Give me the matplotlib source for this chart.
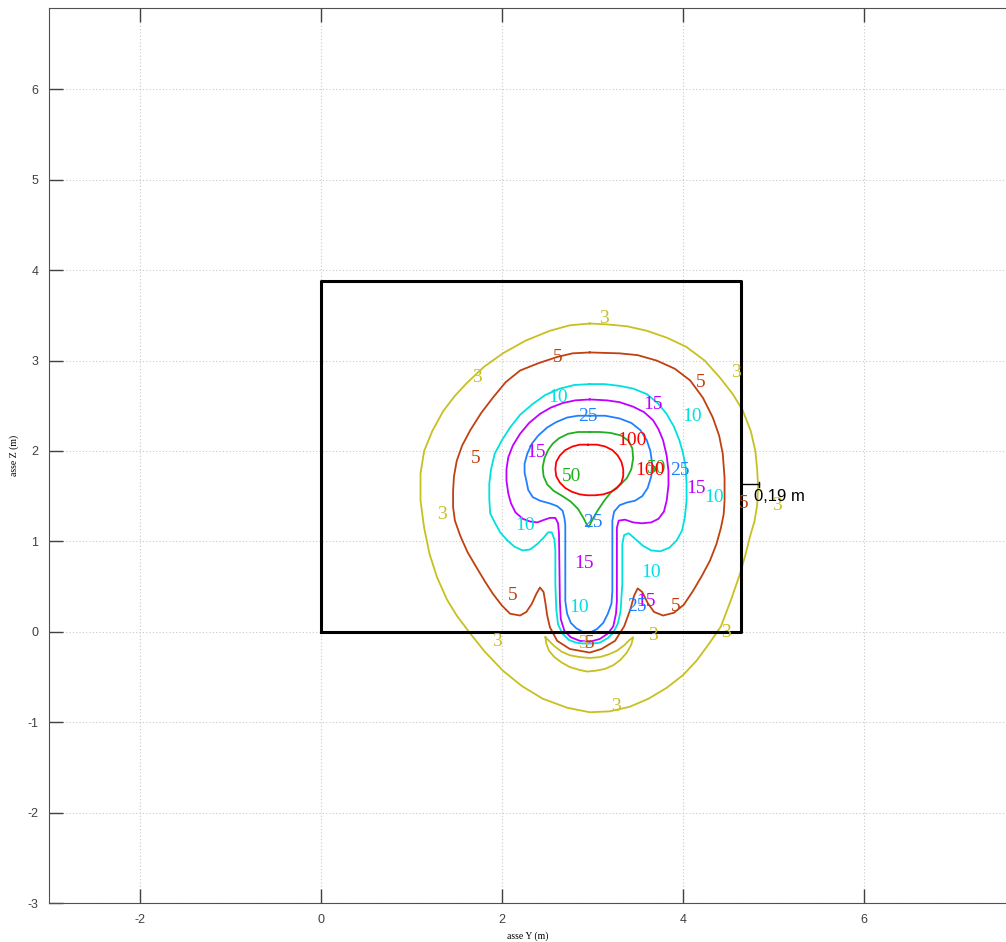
import numpy as np
import matplotlib.pyplot as plt
from matplotlib.ticker import MultipleLocator

plt.rcParams['axes.unicode_minus'] = False

# curve di livello: coppie (asse Y, asse Z) in metri
c3 = [(2.97, 3.41), (3.16, 3.40), (3.38, 3.38), (3.60, 3.33), (3.83, 3.25), (4.04, 3.15),
      (4.24, 3.00), (4.41, 2.81), (4.55, 2.63), (4.66, 2.45), (4.75, 2.22), (4.80, 2.00),
      (4.82, 1.80), (4.83, 1.60), (4.82, 1.40), (4.79, 1.22), (4.74, 1.05), (4.69, 0.85),
      (4.63, 0.64), (4.53, 0.35), (4.42, 0.06), (4.29, -0.13), (4.15, -0.32), (4.00, -0.48),
      (3.82, -0.62), (3.62, -0.74), (3.41, -0.83), (3.19, -0.88), (2.97, -0.89), (2.72, -0.84),
      (2.45, -0.74), (2.22, -0.60), (2.01, -0.43), (1.81, -0.22), (1.65, -0.02), (1.50, 0.18),
      (1.39, 0.36), (1.28, 0.61), (1.20, 0.86), (1.14, 1.15), (1.10, 1.45), (1.10, 1.75),
      (1.14, 2.00), (1.23, 2.22), (1.35, 2.44), (1.48, 2.61), (1.61, 2.75), (1.80, 2.93),
      (2.01, 3.08), (2.26, 3.22), (2.53, 3.33), (2.75, 3.39), (2.97, 3.41)]
c3b = [(2.48, -0.06), (2.49, -0.13), (2.52, -0.21), (2.58, -0.28), (2.66, -0.34), (2.75, -0.39),
       (2.85, -0.42), (2.94, -0.44), (3.04, -0.43), (3.14, -0.41), (3.23, -0.37), (3.31, -0.31),
       (3.38, -0.23), (3.43, -0.14), (3.45, -0.06), (3.41, -0.09), (3.35, -0.15), (3.27, -0.21),
       (3.18, -0.25), (3.08, -0.28), (2.97, -0.29), (2.86, -0.28), (2.75, -0.26), (2.66, -0.22),
       (2.58, -0.16), (2.52, -0.10), (2.48, -0.06)]
c5 = [(2.97, 3.09), (2.78, 3.08), (2.61, 3.04), (2.40, 2.97), (2.20, 2.89), (2.04, 2.76),
      (1.90, 2.59), (1.77, 2.42), (1.65, 2.23), (1.56, 2.06), (1.50, 1.89), (1.47, 1.72),
      (1.46, 1.56), (1.46, 1.38), (1.48, 1.23), (1.54, 1.06), (1.62, 0.88), (1.72, 0.71),
      (1.81, 0.56), (1.90, 0.42), (2.00, 0.29), (2.09, 0.20), (2.20, 0.18), (2.27, 0.22),
      (2.33, 0.31), (2.38, 0.42), (2.42, 0.49), (2.46, 0.44), (2.48, 0.32), (2.50, 0.18),
      (2.53, 0.05), (2.61, -0.10), (2.75, -0.19), (2.97, -0.23), (3.10, -0.19), (3.25, -0.10),
      (3.35, 0.06), (3.42, 0.25), (3.46, 0.40), (3.50, 0.48), (3.55, 0.44), (3.61, 0.32),
      (3.68, 0.22), (3.78, 0.18), (3.90, 0.21), (4.01, 0.30), (4.11, 0.45), (4.21, 0.62),
      (4.30, 0.79), (4.37, 0.97), (4.42, 1.15), (4.45, 1.30), (4.46, 1.45), (4.46, 1.70),
      (4.44, 1.97), (4.40, 2.17), (4.33, 2.37), (4.22, 2.59), (4.08, 2.78), (3.91, 2.91),
      (3.71, 3.00), (3.50, 3.06), (3.30, 3.08), (2.97, 3.09)]
c10 = [(2.97, 2.74), (2.80, 2.73), (2.64, 2.69), (2.48, 2.62), (2.34, 2.52), (2.20, 2.40),
       (2.09, 2.26), (2.00, 2.12), (1.92, 1.97), (1.88, 1.80), (1.86, 1.64), (1.86, 1.47),
       (1.87, 1.31), (1.92, 1.21), (1.98, 1.10), (2.06, 1.01), (2.14, 0.94), (2.23, 0.90),
       (2.31, 0.91), (2.39, 0.97), (2.46, 1.04), (2.51, 1.10), (2.55, 1.10), (2.58, 1.02),
       (2.59, 0.90), (2.59, 0.53), (2.60, 0.25), (2.62, 0.08), (2.67, -0.02), (2.74, -0.09),
       (2.82, -0.12), (2.90, -0.13), (3.00, -0.13), (3.08, -0.12), (3.17, -0.07), (3.23, -0.01),
       (3.28, 0.09), (3.31, 0.22), (3.33, 0.53), (3.33, 0.97), (3.35, 1.07), (3.40, 1.09),
       (3.47, 1.03), (3.56, 0.95), (3.65, 0.90), (3.75, 0.89), (3.85, 0.93), (3.93, 1.01),
       (3.99, 1.12), (4.02, 1.26), (4.04, 1.45), (4.04, 1.64), (4.03, 1.82), (4.00, 1.98),
       (3.96, 2.12), (3.90, 2.27), (3.82, 2.41), (3.72, 2.53), (3.60, 2.63), (3.45, 2.69),
       (3.30, 2.72), (3.13, 2.74), (2.97, 2.74)]
c15 = [(2.97, 2.57), (2.81, 2.56), (2.67, 2.53), (2.54, 2.48), (2.42, 2.41), (2.30, 2.31),
       (2.20, 2.19), (2.12, 2.06), (2.07, 1.93), (2.05, 1.80), (2.05, 1.67), (2.07, 1.53),
       (2.10, 1.42), (2.15, 1.32), (2.23, 1.25), (2.31, 1.22), (2.39, 1.21), (2.47, 1.24),
       (2.53, 1.26), (2.59, 1.26), (2.62, 1.20), (2.63, 1.09), (2.64, 0.34), (2.65, 0.14),
       (2.69, 0.01), (2.76, -0.06), (2.86, -0.10), (2.97, -0.11), (3.08, -0.08), (3.17, -0.02),
       (3.23, 0.06), (3.26, 0.20), (3.27, 0.34), (3.27, 1.15), (3.29, 1.23), (3.36, 1.24),
       (3.45, 1.21), (3.55, 1.20), (3.65, 1.21), (3.73, 1.25), (3.79, 1.33), (3.82, 1.45),
       (3.84, 1.62), (3.84, 1.78), (3.82, 1.95), (3.78, 2.12), (3.73, 2.24), (3.67, 2.34),
       (3.57, 2.43), (3.45, 2.49), (3.30, 2.54), (3.16, 2.56), (2.97, 2.57)]
c25 = [(2.97, 2.39), (2.84, 2.39), (2.72, 2.37), (2.60, 2.32), (2.50, 2.26), (2.40, 2.17),
       (2.33, 2.08), (2.28, 1.97), (2.25, 1.86), (2.25, 1.76), (2.27, 1.67), (2.29, 1.57),
       (2.34, 1.49), (2.42, 1.45), (2.53, 1.42), (2.61, 1.39), (2.67, 1.34), (2.69, 1.26),
       (2.70, 1.18), (2.70, 0.34), (2.72, 0.20), (2.76, 0.10), (2.82, 0.04), (2.89, 0.00),
       (2.97, -0.01), (3.05, 0.03), (3.12, 0.10), (3.17, 0.20), (3.21, 0.31), (3.22, 0.45),
       (3.22, 1.23), (3.24, 1.33), (3.30, 1.40), (3.38, 1.43), (3.47, 1.45), (3.55, 1.50),
       (3.61, 1.59), (3.65, 1.72), (3.66, 1.86), (3.64, 2.00), (3.60, 2.12), (3.53, 2.23),
       (3.43, 2.31), (3.30, 2.36), (3.14, 2.39), (2.97, 2.39)]
c50 = [(2.97, 2.21), (2.84, 2.21), (2.73, 2.19), (2.63, 2.14), (2.56, 2.08), (2.51, 2.01),
       (2.47, 1.92), (2.45, 1.82), (2.46, 1.72), (2.50, 1.63), (2.57, 1.56), (2.67, 1.50),
       (2.76, 1.44), (2.84, 1.36), (2.90, 1.26), (2.94, 1.18), (2.96, 1.16), (2.99, 1.22),
       (3.05, 1.33), (3.13, 1.45), (3.21, 1.55), (3.30, 1.62), (3.38, 1.70), (3.43, 1.80),
       (3.45, 1.92), (3.44, 2.03), (3.40, 2.11), (3.32, 2.17), (3.20, 2.20), (3.08, 2.21),
       (2.97, 2.21)]
c100 = [(2.95, 2.07), (3.05, 2.07), (3.14, 2.05), (3.22, 2.01), (3.28, 1.95), (3.32, 1.88),
        (3.34, 1.80), (3.34, 1.72), (3.32, 1.65), (3.27, 1.59), (3.21, 1.55), (3.12, 1.52),
        (3.03, 1.51), (2.94, 1.51), (2.86, 1.52), (2.77, 1.55), (2.70, 1.59), (2.64, 1.65),
        (2.60, 1.72), (2.59, 1.80), (2.60, 1.88), (2.64, 1.95), (2.70, 2.01), (2.78, 2.05),
        (2.86, 2.07), (2.95, 2.07)]

# etichette dei livelli (posizioni Y, Z)
lab3 = [(3.13, 3.47), (1.72, 2.81), (4.59, 2.87), (1.34, 1.30), (1.94, -0.11), (3.67, -0.04),
        (4.48, -0.01), (3.26, -0.83), (5.04, 1.40), (2.90, -0.13)]
lab5 = [(2.62, 3.03), (4.20, 2.76), (1.71, 1.92), (2.12, 0.40), (3.92, 0.28), (4.67, 1.42),
        (2.97, -0.13)]
lab10 = [(2.62, 2.59), (4.10, 2.38), (2.25, 1.18), (3.65, 0.66), (2.85, 0.27), (4.34, 1.48)]
lab15 = [(3.67, 2.51), (2.38, 1.98), (2.91, 0.76), (4.14, 1.59), (3.59, 0.34)]
lab25 = [(2.95, 2.38), (3.97, 1.78), (3.01, 1.21), (3.49, 0.28)]
lab50 = [(2.77, 1.72), (3.71, 1.81)]
lab100 = [(3.44, 2.12), (3.64, 1.78)]

# sezione (rettangolo) e quota 0,19 m
sez_y = [0, 4.64, 4.64, 0, 0]
sez_z = [0, 0, 3.88, 3.88, 0]
quota_y = [4.64, 4.84]
quota_z = [1.63, 1.63]

col = {3: '#c8c020', 5: '#c04010', 10: '#00e0e0', 15: '#c000ff',
       25: '#2080ff', 50: '#20b020', 100: '#ff0000'}

curve = [(3, c3), (3, c3b), (5, c5), (10, c10), (15, c15), (25, c25), (50, c50), (100, c100)]
etichette = [(3, lab3), (5, lab5), (10, lab10), (15, lab15), (25, lab25), (50, lab50),
             (100, lab100)]

fig = plt.figure(figsize=(10.06, 9.42), dpi=100)
ax = fig.add_axes([0.0492, 0.0414, 0.9508, 0.9501])

for liv, pts in curve:
    yy, zz = zip(*pts)
    ax.plot(yy, zz, color=col[liv], lw=1.3, solid_joinstyle='round')
for liv, pts in etichette:
    for y, z in pts:
        ax.text(y, z, str(liv), color=col[liv], fontsize=14, family='Liberation Serif',
                ha='center', va='center')

ax.plot(sez_y, sez_z, color='black', lw=2.2)
ax.plot(quota_y, quota_z, color='black', lw=1)
ax.plot([quota_y[1], quota_y[1]], [quota_z[0] - 0.03, quota_z[0] + 0.03], color='black', lw=1)
ax.text(4.78, 1.50, '0,19 m', fontsize=12, family='Liberation Sans', ha='left', va='center')

ax.set_xlim(-3, 7.57)
ax.set_ylim(-3, 6.9)
ax.xaxis.set_major_locator(MultipleLocator(2))
ax.yaxis.set_major_locator(MultipleLocator(1))
ax.tick_params(direction='in', length=10, width=1, color='#404040', labelsize=9,
               labelcolor='#404040', top=True, right=False, pad=8)
for lab in ax.get_xticklabels() + ax.get_yticklabels():
    lab.set_family('Liberation Sans')
for s in ['left', 'bottom', 'top']:
    ax.spines[s].set_color('#505050')
ax.spines['right'].set_visible(False)
ax.grid(True, color='#c8c8c8', linestyle=(0, (1, 2)), lw=0.8)
ax.set_xlabel('asse Y (m)', family='Liberation Serif', fontsize=7, labelpad=4)
ax.set_ylabel('asse Z (m)', family='Liberation Serif', fontsize=7, labelpad=6)

plt.savefig('out.png', dpi=100)
